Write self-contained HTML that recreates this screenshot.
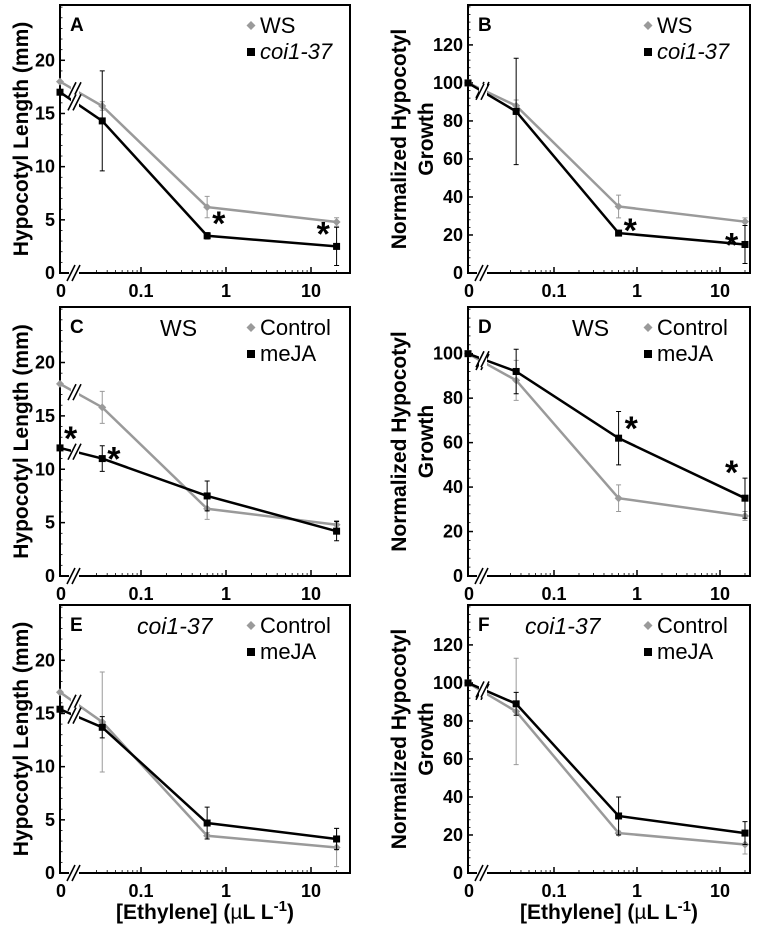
<!DOCTYPE html>
<html><head><meta charset="utf-8"><style>
html,body{margin:0;padding:0;background:#fff}
svg{display:block;font-family:"Liberation Sans",Arial,sans-serif}
</style></head><body>
<svg id="fig" width="760" height="928" viewBox="0 0 760 928" xmlns="http://www.w3.org/2000/svg"></svg>
<script>
// x concentrations (µL/L); 0 is plotted at the axis origin
const concentrations = [0, 0.035, 0.6, 20];
const xTickLabels = ["0", "0.1", "1", "10"];
const xTickValues = [0, 0.1, 1, 10];
const lengthTicks = [0, 5, 10, 15, 20];
const growthTicksB = [0, 20, 40, 60, 80, 100, 120];
const growthTicksD = [0, 20, 40, 60, 80, 100];

const aWS = [18, 15.7, 6.2, 4.8];
const aWSerr = [0, 0.4, 1.0, 0.4];
const aCoi = [17, 14.3, 3.5, 2.5];
const aCoiErr = [0, 4.7, 0.3, 1.8];

const bWS = [100, 88, 35, 27];
const bWSerr = [0, 3, 6, 2];
const bCoi = [100, 85, 21, 15];
const bCoiErr = [0, 28, 1, 10];

const cControl = [18, 15.8, 6.3, 4.8];
const cControlErr = [0, 1.5, 1.0, 0.4];
const cMeJA = [12, 11, 7.5, 4.2];
const cMeJAerr = [0, 1.2, 1.4, 0.9];

const dControl = [100, 88, 35, 27];
const dControlErr = [0, 9, 6, 2];
const dMeJA = [100, 92, 62, 35];
const dMeJAerr = [0, 10, 12, 9];

const eControl = [17, 14.2, 3.5, 2.4];
const eControlErr = [0, 4.7, 0.3, 1.8];
const eMeJA = [15.4, 13.7, 4.7, 3.2];
const eMeJAerr = [0, 1.0, 1.5, 1.0];

const fControl = [100, 85, 21, 15];
const fControlErr = [0, 28, 1, 5];
const fMeJA = [100, 89, 30, 21];
const fMeJAerr = [0, 6, 10, 6];

const NS = "http://www.w3.org/2000/svg";
const svg = document.getElementById("fig");
function mk(tag, attrs, parent, text) {
  const e = document.createElementNS(NS, tag);
  for (const k in attrs) e.setAttribute(k, attrs[k]);
  if (text !== undefined) e.textContent = text;
  (parent || svg).appendChild(e);
  return e;
}

function panel(p) {
  const g = mk("g", {});
  
  
  const L = p.x0, R = p.x1, T = p.y0, B = p.y1;
  const ys = v => B - v / p.ymax * (B - T);
  const xs = c => c === 0 ? L : p.x1dec + Math.log10(c) * p.dec;
  const frame = mk("rect", {x: L, y: T, width: R - L, height: B - T, fill: "none", stroke: "#000", "stroke-width": 2}, g);
  
  
  p.yticks.forEach(v => {
    const y = ys(v);
    mk("line", {x1: L, x2: L + 5, y1: y, y2: y, stroke: "#000", "stroke-width": 1.5}, g);
    const t = mk("text", {x: L - 5, y: y + 6, "text-anchor": "end", "font-size": 18, "font-weight": "bold"}, g, String(v));
    
    
  });
  const step = p.yticks[1] - p.yticks[0];
  for (let v = step / 5; v < p.ymax; v += step / 5) {
    mk("line", {x1: L, x2: L + 2.5, y1: ys(v), y2: ys(v), stroke: "#000", "stroke-width": 0.8}, g);
  }
  xTickValues.forEach((v, i) => {
    const x = xs(v);
    if (v !== 0) mk("line", {x1: x, x2: x, y1: B, y2: B - 6, stroke: "#000", "stroke-width": 1.5}, g);
    const t = mk("text", {x: x + (v === 0 ? 1 : 0), y: B + 24, "text-anchor": "middle", "font-size": 18, "font-weight": "bold"}, g, xTickLabels[i]);
    
    
  });
  for (let d = -2; d <= 1; d++) for (let m = 2; m <= 9; m++) {
    const c = m * Math.pow(10, d); const x = xs(c);
    if (x > L + 30 && x < R) mk("line", {x1: x, x2: x, y1: B, y2: B - 3, stroke: "#000", "stroke-width": 0.8}, g);
  }
  mk("rect", {x: L + 9, y: B - 7, width: 10, height: 14, fill: "#fff"}, g);
  mk("path", {d: `M${L+7},${B+8} L${L+15},${B-8} M${L+12},${B+8} L${L+20},${B-8}`, stroke: "#000", "stroke-width": 1.6, fill: "none"}, g);
  p.series.forEach(s => {
    const sg = mk("g", {}, g);
    
    
    const pts = s.vals.map((v, i) => [xs(concentrations[i]), ys(v)]);
    s.vals.forEach((v, i) => {
      if (s.err[i] > 0) {
        const x = pts[i][0];
        const eb = mk("path", {d: `M${x},${ys(v + s.err[i])} V${ys(v - s.err[i])} M${x-2.5},${ys(v + s.err[i])} h5 M${x-2.5},${ys(v - s.err[i])} h5`, stroke: s.color, "stroke-width": 1, fill: "none"}, sg);
        
        
      }
    });
    const line = mk("polyline", {points: pts.map(q => q.join(",")).join(" "), fill: "none", stroke: s.color, "stroke-width": 2.5}, sg);
    
    
    pts.forEach(q => {
      let m;
      if (s.shape === "sq") m = mk("rect", {x: q[0] - 3.5, y: q[1] - 3.5, width: 7, height: 7, fill: s.color}, sg);
      else m = mk("path", {d: `M${q[0]},${q[1]-4} L${q[0]+4},${q[1]} L${q[0]},${q[1]+4} L${q[0]-4},${q[1]} Z`, fill: s.color}, sg);
      
      
    });
    const bx = L + 15, by = pts[0][1] + (pts[1][1] - pts[0][1]) * (15 / (pts[1][0] - pts[0][0]));
    mk("rect", {x: bx - 4, y: by - 8, width: 8, height: 16, fill: "#fff"}, sg);
    mk("path", {d: `M${bx-7},${by+8} L${bx+1},${by-8} M${bx-2},${by+8} L${bx+6},${by-8}`, stroke: "#000", "stroke-width": 1.6, fill: "none"}, sg);
  });
  p.stars.forEach(st => {
    const s = p.series[st[0]]; const i = st[1];
    const t = mk("text", {x: xs(concentrations[i]) + st[2], y: ys(s.vals[i]) + st[3] + 4, "font-size": 34, "font-weight": "bold"}, g, "*");
    
    
  });
  const lt = mk("text", {x: L + 10, y: T + 26, "font-size": 19, "font-weight": "bold"}, g, p.letter);
  
  
  if (p.title) {
    const tt = mk("text", {x: p.titleX, y: T + 29, "font-size": 23, "font-style": p.titleItalic ? "italic" : "normal"}, g, p.title);
    
    
  }
  p.series.forEach((s, k) => {
    const ly = T + 28 + k * 26, lx = p.legX;
    let m;
    if (s.shape === "sq") m = mk("rect", {x: lx - 4, y: ly - 11, width: 8, height: 8, fill: s.color}, g);
    else m = mk("path", {d: `M${lx},${ly-12} L${lx+4.5},${ly-7.5} L${lx},${ly-3} L${lx-4.5},${ly-7.5} Z`, fill: s.color}, g);
    
    
    const t = mk("text", {x: lx + 9, y: ly, "font-size": 22, "font-style": s.italic ? "italic" : "normal"}, g, s.label);
    
    
  });
  const cy = (T + B) / 2;
  p.ylabel.forEach((line, k) => {
    const lx = p.ylabelX + k * 27;
    const t = mk("text", {x: lx, y: cy, transform: `rotate(-90 ${lx} ${cy})`, "text-anchor": "middle", "font-size": 21, "font-weight": "bold"}, g, line);
    
    
  });
  if (p.xlabel) {
    const t = mk("text", {x: (L + R) / 2, y: B + 46, "text-anchor": "middle", "font-size": 21, "font-weight": "bold"}, g);
    
    
    t.innerHTML = '[Ethylene] (<tspan font-weight="normal">\u00b5</tspan>L L<tspan dy="-8" font-size="15">-1</tspan><tspan dy="8">)</tspan>';
  }
}

const GRAY = "#9a9a9a", BLK = "#000";
const left = {x0: 60, x1: 350, x1dec: 226, dec: 85, ymax: 25.2, yticks: lengthTicks, ylabel: ["Hypocotyl Length (mm)"], ylabelX: 28, legX: 251};
const right = {x0: 468, x1: 750, x1dec: 637, dec: 83, ylabel: ["Normalized Hypocotyl", "Growth"], ylabelX: 406, legX: 648};
const rows = [[5, 273], [307, 576], [605, 873]];

panel(Object.assign({}, left, {letter: "A", y0: rows[0][0], y1: rows[0][1],
  series: [{name: "ws", label: "WS", color: GRAY, shape: "di", vals: aWS, err: aWSerr},
           {name: "coi1-37", label: "coi1-37", italic: true, color: BLK, shape: "sq", vals: aCoi, err: aCoiErr}],
  stars: [[1, 2, 5, -5], [1, 3, -20, -5]]}));
panel(Object.assign({}, right, {letter: "B", y0: rows[0][0], y1: rows[0][1], ymax: 141, yticks: growthTicksB,
  series: [{name: "ws", label: "WS", color: GRAY, shape: "di", vals: bWS, err: bWSerr},
           {name: "coi1-37", label: "coi1-37", italic: true, color: BLK, shape: "sq", vals: bCoi, err: bCoiErr}],
  stars: [[1, 2, 5, 5], [1, 3, -20, 8]]}));
panel(Object.assign({}, left, {letter: "C", y0: rows[1][0], y1: rows[1][1], title: "WS", titleX: 160,
  series: [{name: "control", label: "Control", color: GRAY, shape: "di", vals: cControl, err: cControlErr},
           {name: "meja", label: "meJA", color: BLK, shape: "sq", vals: cMeJA, err: cMeJAerr}],
  stars: [[1, 0, 4, -2], [1, 1, 5, 8]]}));
panel(Object.assign({}, right, {letter: "D", y0: rows[1][0], y1: rows[1][1], ymax: 121, yticks: growthTicksD, title: "WS", titleX: 572,
  series: [{name: "control", label: "Control", color: GRAY, shape: "di", vals: dControl, err: dControlErr},
           {name: "meja", label: "meJA", color: BLK, shape: "sq", vals: dMeJA, err: dMeJAerr}],
  stars: [[1, 2, 6, -2], [1, 3, -20, -18]]}));
panel(Object.assign({}, left, {letter: "E", y0: rows[2][0], y1: rows[2][1], title: "coi1-37", titleItalic: true, titleX: 137, xlabel: true,
  series: [{name: "control", label: "Control", color: GRAY, shape: "di", vals: eControl, err: eControlErr},
           {name: "meja", label: "meJA", color: BLK, shape: "sq", vals: eMeJA, err: eMeJAerr}],
  stars: []}));
panel(Object.assign({}, right, {letter: "F", y0: rows[2][0], y1: rows[2][1], ymax: 141, yticks: growthTicksB, title: "coi1-37", titleItalic: true, titleX: 525, xlabel: true,
  series: [{name: "control", label: "Control", color: GRAY, shape: "di", vals: fControl, err: fControlErr},
           {name: "meja", label: "meJA", color: BLK, shape: "sq", vals: fMeJA, err: fMeJAerr}],
  stars: []}));
</script>
</body></html>
